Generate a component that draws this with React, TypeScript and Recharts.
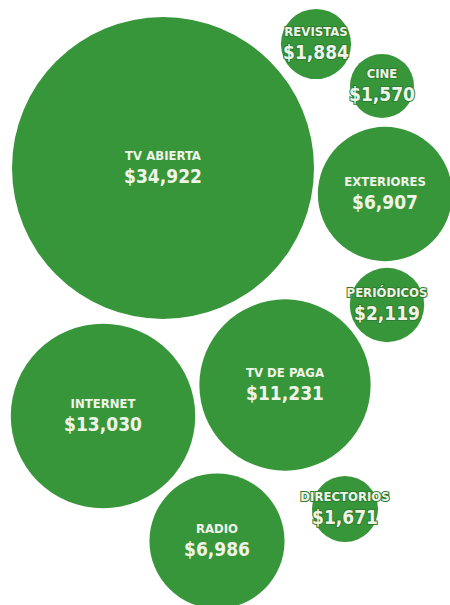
import React from 'react';
import { ScatterChart, Scatter, XAxis, YAxis, ZAxis } from 'recharts';

// spending by medium (millions of pesos)
const mediaNames = ['TV ABIERTA', 'REVISTAS', 'CINE', 'EXTERIORES', 'PERIÓDICOS', 'TV DE PAGA', 'INTERNET', 'DIRECTORIOS', 'RADIO'];
const mediaValues = [34922, 1884, 1570, 6907, 2119, 11231, 13030, 1671, 6986];
// packed layout position of each bubble centre, in chart units
const layoutX = [163, 316, 382, 385, 387, 285, 103, 345, 217];
const layoutY = [168, 44, 86, 194, 305, 385, 416, 509, 541];

const GREEN = '#38963a';
const TEXT = '#eef4e8';
const FONT = "'DejaVu Sans Condensed', 'DejaVu Sans', sans-serif";

const data = mediaNames.map((name, i) => ({
    name,
    value: mediaValues[i],
    x: layoutX[i],
    y: layoutY[i],
}));

const fmt = (v: number) => '$' + v.toLocaleString('en-US');

const Bubble = (props: any) => {
    const { cx, cy, size, payload } = props;
    const r = Math.sqrt(Math.max(size, 0) / Math.PI);
    const small = r < 45;
    const outline = small
        ? { stroke: '#2e7d30', strokeWidth: 2, paintOrder: 'stroke' as const }
        : {};
    return (
        <g>
            <circle cx={cx} cy={cy} r={r} fill={GREEN} />
            <text
                x={cx}
                y={cy - 8}
                textAnchor="middle"
                fill={TEXT}
                fontSize={13}
                fontWeight="bold"
                fontFamily={FONT}
                {...outline}
            >
                {payload.name}
            </text>
            <text
                x={cx}
                y={cy + 15}
                textAnchor="middle"
                fill={TEXT}
                fontSize={19}
                fontWeight="bold"
                fontFamily={FONT}
                {...outline}
            >
                {fmt(payload.value)}
            </text>
        </g>
    );
};

const App: React.FC = () => {
    return (
        <div style={{ position: 'absolute', left: 0, top: 0, width: 450, height: 605, background: '#fff' }}>
            <ScatterChart width={450} height={605} margin={{ top: 0, right: 0, bottom: 0, left: 0 }}>
                <XAxis type="number" dataKey="x" domain={[0, 450]} hide />
                <YAxis type="number" dataKey="y" domain={[0, 605]} reversed hide />
                <ZAxis type="number" dataKey="value" domain={[0, 34922]} range={[0, Math.PI * 151 * 151]} />
                <Scatter data={data} shape={Bubble} isAnimationActive={false} />
            </ScatterChart>
        </div>
    );
};

export default App;
